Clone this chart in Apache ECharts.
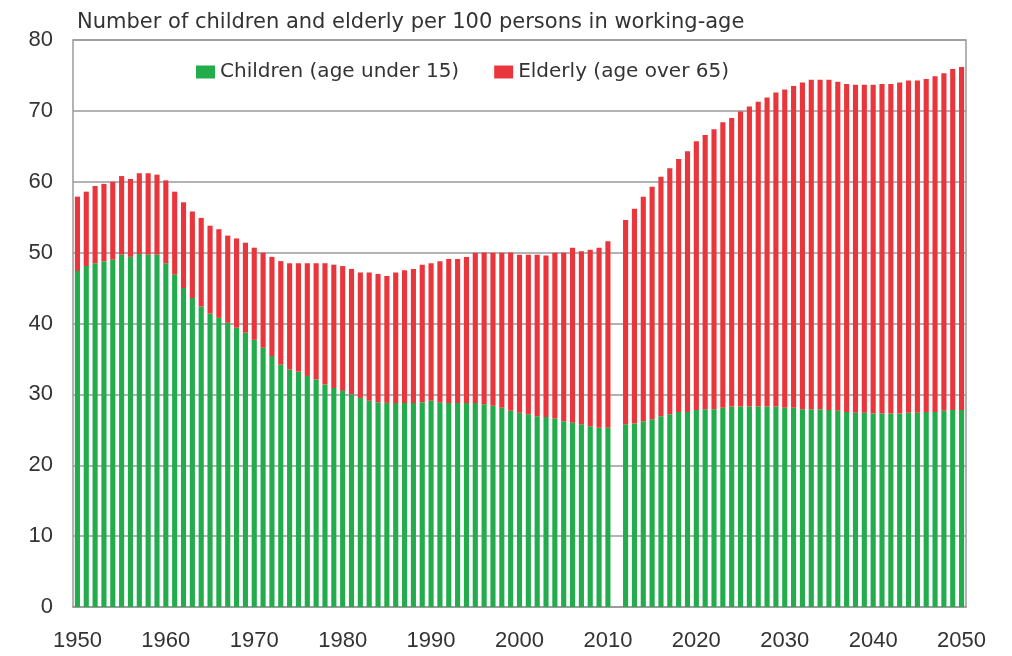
<!DOCTYPE html>
<html>
<head>
<meta charset="utf-8">
<script src="https://cdn.jsdelivr.net/npm/echarts@6/dist/echarts.min.js"></script>
<style>
  html, body { margin: 0; padding: 0; background: #fff; }
  #chart { width: 1012px; height: 656px; }
</style>
</head>
<body>
<div id="chart"></div>
<script>
// Tahun 1950 - 2050 (2011 kosong)
const years = [];
for (let y = 1950; y <= 2050; y++) years.push(String(y));

// Anak-anak (umur di bawah 15) per 100 penduduk usia kerja
const children = [
  47.4, 48.1, 48.5, 48.8, 49.0, 49.7, 49.4, 49.8, 49.7, 49.7,
  48.5, 46.9, 45.0, 43.6, 42.4, 41.4, 40.8, 40.1, 39.4, 38.7,
  37.7, 36.6, 35.4, 34.2, 33.5, 33.2, 32.6, 32.1, 31.4, 30.9,
  30.5, 30.0, 29.5, 29.1, 28.9, 28.8, 28.8, 28.8, 28.8, 28.9,
  29.1, 28.9, 28.8, 28.8, 28.8, 28.8, 28.6, 28.4, 28.1, 27.7,
  27.4, 27.2, 26.9, 26.8, 26.6, 26.2, 26.0, 25.8, 25.5, 25.3,
  25.3, null, 25.8, 25.9, 26.2, 26.5, 26.9, 27.2, 27.5, 27.5,
  27.8, 27.9, 27.9, 28.1, 28.3, 28.3, 28.3, 28.3, 28.3, 28.3,
  28.1, 28.1, 27.9, 27.9, 27.9, 27.8, 27.7, 27.5, 27.4, 27.4,
  27.3, 27.3, 27.3, 27.3, 27.4, 27.4, 27.5, 27.5, 27.7, 27.8,
  27.8
];

// Lansia (umur di atas 65) per 100 penduduk usia kerja
const elderly = [
  10.5, 10.5, 10.9, 10.9, 11.0, 11.1, 11.0, 11.4, 11.5, 11.3,
  11.7, 11.7, 12.1, 12.2, 12.5, 12.4, 12.5, 12.3, 12.6, 12.7,
  13.0, 13.4, 14.0, 14.6, 15.0, 15.3, 15.9, 16.4, 17.1, 17.4,
  17.6, 17.7, 17.7, 18.1, 18.1, 17.9, 18.4, 18.7, 18.9, 19.4,
  19.4, 19.9, 20.3, 20.3, 20.6, 21.2, 21.4, 21.6, 21.9, 22.3,
  22.3, 22.5, 22.8, 22.8, 23.4, 23.8, 24.7, 24.4, 24.9, 25.4,
  26.3, null, 28.8, 30.3, 31.7, 32.8, 33.8, 34.7, 35.7, 36.8,
  37.9, 38.7, 39.5, 40.3, 40.7, 41.6, 42.3, 43.0, 43.6, 44.3,
  44.9, 45.4, 46.1, 46.5, 46.5, 46.6, 46.4, 46.3, 46.3, 46.3,
  46.4, 46.5, 46.5, 46.7, 46.9, 46.9, 47.0, 47.4, 47.6, 48.1,
  48.4
];

const chart = echarts.init(document.getElementById('chart'));

const axisFont = 'Liberation Sans, Arial, sans-serif';
const textFont = 'DejaVu Sans, sans-serif';

chart.setOption({
  animation: false,
  title: {
    text: 'Number of children and elderly per 100 persons in working-age',
    left: 72,
    top: 7,
    textStyle: { fontFamily: textFont, fontSize: 21, fontWeight: 'normal', color: '#333' }
  },
  legend: {
    left: 191,
    top: 57,
    itemWidth: 19,
    itemHeight: 13,
    itemGap: 35,
    icon: 'rect',
    textStyle: { fontFamily: textFont, fontSize: 20, color: '#333' },
    data: ['Children (age under 15)', 'Elderly (age over 65)']
  },
  grid: {
    left: 73,
    right: 46,
    top: 40,
    bottom: 49,
    show: true,
    borderColor: '#9a9a9a',
    borderWidth: 1.5
  },
  xAxis: {
    type: 'category',
    data: years,
    axisLine: { lineStyle: { color: '#9a9a9a', width: 1.5 } },
    axisTick: {
      alignWithLabel: true,
      length: 13,
      interval: (i) => i % 5 === 0,
      lineStyle: { color: '#9a9a9a', width: 1.5 }
    },
    axisLabel: {
      interval: (i) => i % 10 === 0,
      margin: 23,
      fontFamily: axisFont,
      fontSize: 22,
      color: '#333'
    }
  },
  yAxis: {
    type: 'value',
    min: 0,
    max: 80,
    interval: 10,
    axisLine: { show: false },
    axisTick: { show: false },
    splitLine: { lineStyle: { color: '#9a9a9a', width: 1.5 } },
    axisLabel: { margin: 20, fontFamily: axisFont, fontSize: 22, color: '#333' }
  },
  series: [
    {
      name: 'Children (age under 15)',
      type: 'bar',
      stack: 'total',
      barWidth: '58%',
      itemStyle: { color: '#22ac4c' },
      data: children
    },
    {
      name: 'Elderly (age over 65)',
      type: 'bar',
      stack: 'total',
      barWidth: '58%',
      itemStyle: { color: '#e8363c' },
      data: elderly
    }
  ]
});
</script>
</body>
</html>
